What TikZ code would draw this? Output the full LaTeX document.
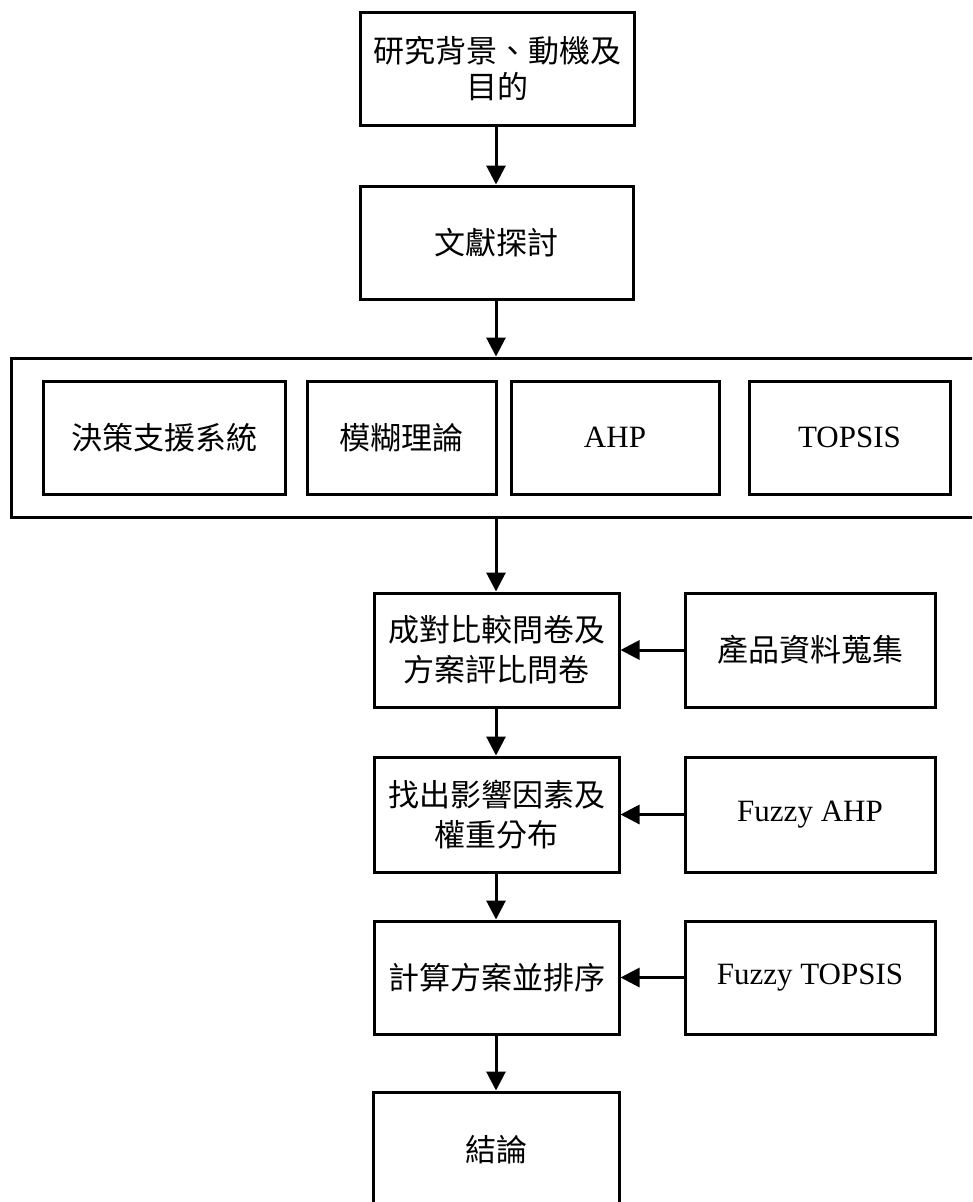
\documentclass[tikz,border=0pt]{standalone}
\usepackage{fontspec}
\setmainfont{Liberation Serif}
\newfontfamily\cjk{Noto Sans CJK TC}
\usetikzlibrary{arrows.meta}

\tikzset{
  box/.style={draw, line width=3pt, fill=white, inner sep=0pt, align=center,
              font=\fontsize{31}{40}\selectfont},
  flow/.style={line width=3pt, -{Triangle[length=19pt,width=19pt]}},
  link/.style={line width=3pt}
}

\begin{document}
\begin{tikzpicture}[x=1pt,y=-1pt]
  \useasboundingbox (0,0) rectangle (972,1202);
  \clip (0,0) rectangle (972,1202);
  \fill[white] (0,0) rectangle (972,1202);

  % main column
  \node[box, minimum width=274pt, minimum height=113pt, font=\fontsize{31}{36}\selectfont]
    (bg) at (497,68.5) {\cjk 研究背景、動機及\\\cjk 目的};
  \node[box, minimum width=273pt, minimum height=113pt]
    (lit) at (496.5,242.5) {\cjk 文獻探討};

  % theory group (runs past the right edge)
  \node[box, minimum width=989pt, minimum height=159pt]
    (grp) at (505.5,437.5) {};
  \node[box, minimum width=242pt, minimum height=113pt]
    (dss) at (164,437.5) {\cjk 決策支援系統};
  \node[box, minimum width=189pt, minimum height=113pt]
    (fuzzy) at (401.5,437.5) {\cjk 模糊理論};
  \node[box, minimum width=208pt, minimum height=113pt]
    (ahp) at (615,437.5) {AHP};
  \node[box, minimum width=201pt, minimum height=113pt]
    (topsis) at (849.5,437.5) {TOPSIS};

  % lower column
  \node[box, minimum width=245pt, minimum height=114pt]
    (quest) at (496.5,650) {\cjk 成對比較問卷及\\\cjk 方案評比問卷};
  \node[box, minimum width=250pt, minimum height=114pt]
    (prod) at (810,650) {\cjk 產品資料蒐集};

  \node[box, minimum width=245pt, minimum height=115pt]
    (factor) at (496.5,814.5) {\cjk 找出影響因素及\\\cjk 權重分布};
  \node[box, minimum width=250pt, minimum height=115pt]
    (fahp) at (810,814.5) {Fuzzy AHP};

  \node[box, minimum width=245pt, minimum height=113pt]
    (rank) at (496.5,977.5) {\cjk 計算方案並排序};
  \node[box, minimum width=250pt, minimum height=113pt]
    (ftop) at (810,977.5) {Fuzzy TOPSIS};

  % conclusion box (runs past the bottom edge)
  \node[box, minimum width=246pt, minimum height=160pt]
    (concl) at (496,1172) {};
  \node[font=\fontsize{31}{40}\selectfont, inner sep=0pt]
    (conclt) at (496,1150) {\cjk 結論};

  % connectors
  \draw[flow] (bg.south -| 496,0) -- (lit.north -| 496,0);
  \draw[flow] (lit.south -| 496,0) -- (grp.north -| 496,0);
  \draw[flow] (grp.south -| 496,0) -- (quest.north -| 496,0);
  \draw[flow] (quest.south -| 496,0) -- (factor.north -| 496,0);
  \draw[flow] (factor.south -| 496,0) -- (rank.north -| 496,0);
  \draw[flow] (rank.south -| 496,0) -- (concl.north -| 496,0);

  \draw[flow] (prod.west) -- (quest.east);
  \draw[flow] (fahp.west) -- (factor.east);
  \draw[flow] (ftop.west) -- (rank.east);
\end{tikzpicture}
\end{document}
